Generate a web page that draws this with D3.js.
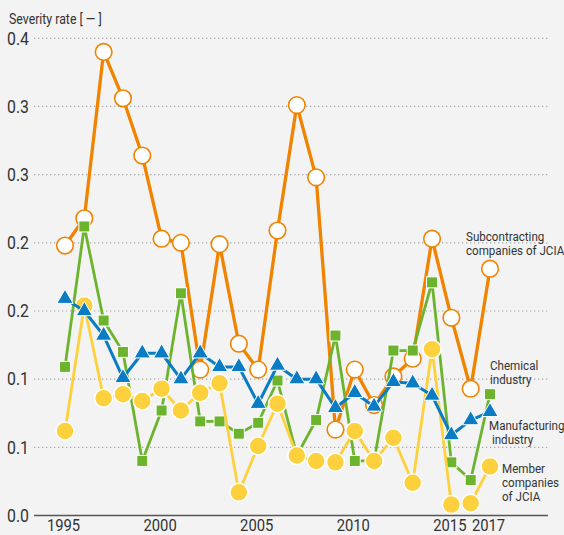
<!DOCTYPE html>
<html>
<head>
<meta charset="utf-8">
<script src="https://cdn.jsdelivr.net/npm/d3@7"></script>
<style>
  html, body { margin: 0; padding: 0; background: #f2f3f2; }
  #chart { width: 564px; height: 535px; }
  text { font-family: Roboto, 'Liberation Sans', sans-serif; fill: #333; }
</style>
</head>
<body>
<div id="chart"></div>
<script>
// Severity rate by year
const years = [1995, 1996, 1997, 1998, 1999, 2000, 2001, 2002, 2003, 2004, 2005, 2006,
  2007, 2008, 2009, 2010, 2011, 2012, 2013, 2014, 2015, 2016, 2017];
const subcontracting = [0.198, 0.218, 0.340, 0.306, 0.264, 0.203, 0.200, 0.107, 0.199, 0.126, 0.107, 0.209,
  0.301, 0.248, 0.063, 0.107, 0.081, 0.102, 0.115, 0.203, 0.145, 0.093, 0.181];
const chemical = [0.109, 0.212, 0.143, 0.120, 0.040, 0.077, 0.163, 0.069, 0.069, 0.060, 0.068, 0.099,
  0.044, 0.070, 0.132, 0.040, 0.040, 0.121, 0.121, 0.171, 0.039, 0.026, 0.089];
const manufacturing = [0.159, 0.150, 0.132, 0.101, 0.119, 0.119, 0.100, 0.119, 0.109, 0.109, 0.082, 0.110,
  0.100, 0.100, 0.079, 0.090, 0.080, 0.098, 0.097, 0.088, 0.059, 0.070, 0.076];
const member = [0.062, 0.154, 0.086, 0.089, 0.084, 0.093, 0.077, 0.090, 0.097, 0.017, 0.051, 0.082,
  0.044, 0.040, 0.039, 0.062, 0.040, 0.057, 0.024, 0.122, 0.008, 0.009, 0.036];

const yTickValues = [0, 0.05, 0.1, 0.15, 0.2, 0.25, 0.3, 0.35];
const yTickLabels = ['0.0', '0.1', '0.1', '0.2', '0.2', '0.3', '0.3', '0.4'];
const xTickYears = [1995, 2000, 2005, 2010, 2015, 2017];

const width = 564, height = 535;
const narrow = 0.84; // the reference uses a condensed face

const svg = d3.select('#chart').append('svg')
  .attr('width', width)
  .attr('height', height);

svg.append('rect')
  .attr('width', width)
  .attr('height', height)
  .attr('fill', '#f2f3f2');

const x = d3.scaleLinear().domain([1995, 2017]).range([65, 490]);
const y = d3.scaleLinear().domain([0, 0.35]).range([515.5, 38.3]);

const gridLeft = 34, gridRight = 548;

// Y labels
const yAxis = d3.axisLeft(y)
  .tickValues(yTickValues)
  .tickSize(0)
  .tickPadding(0)
  .tickFormat((d, i) => yTickLabels[i]);

const yAxisGroup = svg.append('g')
  .attr('transform', `translate(29,0)`)
  .call(yAxis)
  .call(g => g.select('.domain').remove());

yAxisGroup.selectAll('text')
  .attr('font-size', '18px')
  .attr('fill', '#333')
  .attr('transform', `scale(${narrow + 0.04},1)`);

// Dotted grid lines (solid baseline at zero)
svg.append('g').selectAll('line')
  .data(yTickValues.filter(v => v > 0))
  .join('line')
  .attr('x1', gridLeft)
  .attr('x2', gridRight)
  .attr('y1', d => y(d))
  .attr('y2', d => y(d))
  .attr('stroke', '#a8a8a8')
  .attr('stroke-width', 1.2)
  .attr('stroke-dasharray', '1.3 2.7');

svg.append('line')
  .attr('x1', gridLeft)
  .attr('x2', gridRight)
  .attr('y1', y(0))
  .attr('y2', y(0))
  .attr('stroke', '#555')
  .attr('stroke-width', 1.5);

// Year labels
const xAxis = d3.axisBottom(x)
  .tickValues(xTickYears)
  .tickSize(0)
  .tickPadding(0)
  .tickFormat(d3.format('d'));

const xAxisGroup = svg.append('g')
  .attr('transform', `translate(-2,${y(0)})`)
  .call(xAxis)
  .call(g => g.select('.domain').remove());

xAxisGroup.selectAll('text')
  .attr('font-size', '17px')
  .attr('fill', '#333')
  .attr('dy', null)
  .attr('y', 15)
  .attr('transform', `scale(${narrow + 0.03},1)`);

// Title of the y axis
svg.append('text')
  .attr('transform', `translate(9,24) scale(${narrow + 0.04},1)`)
  .attr('font-size', '14px')
  .attr('fill', '#222')
  .text('Severity rate [ — ]');

const line = d3.line()
  .x((d, i) => x(years[i]))
  .y(d => y(d));

const series = [
  { name: 'subcontracting', values: subcontracting, color: '#f08300', width: 3.3, marker: 'open' },
  { name: 'chemical', values: chemical, color: '#6cb42e', width: 2.8, marker: 'square' },
  { name: 'member', values: member, color: '#fdd13e', width: 2.8, marker: 'circle' },
  { name: 'manufacturing', values: manufacturing, color: '#0a7cc3', width: 3, marker: 'triangle' }
];

series.forEach(s => {
  const g = svg.append('g').attr('class', `series-${s.name}`);

  g.append('path')
    .datum(s.values)
    .attr('d', line)
    .attr('fill', 'none')
    .attr('stroke', s.color)
    .attr('stroke-width', s.width)
    .attr('stroke-linejoin', 'round');

  const pts = g.selectAll('.pt')
    .data(s.values)
    .join('g')
    .attr('class', 'pt')
    .attr('transform', (d, i) => `translate(${x(years[i])},${y(d)})`);

  if (s.marker === 'open') {
    pts.append('circle')
      .attr('r', 8.3)
      .attr('fill', '#fff')
      .attr('stroke', s.color)
      .attr('stroke-width', 1.6);
  } else if (s.marker === 'circle') {
    pts.append('circle')
      .attr('r', 9)
      .attr('fill', s.color)
      .attr('stroke', '#fff')
      .attr('stroke-width', 1.5);
  } else if (s.marker === 'square') {
    pts.append('rect')
      .attr('x', -5.5)
      .attr('y', -5.5)
      .attr('width', 11)
      .attr('height', 11)
      .attr('fill', s.color)
      .attr('stroke', '#fff')
      .attr('stroke-width', 1);
  } else {
    pts.append('path')
      .attr('d', d3.symbol().type(d3.symbolTriangle).size(115))
      .attr('fill', s.color)
      .attr('stroke', '#fff')
      .attr('stroke-width', 1);
  }
});

// Series labels, one text per line
const labels = [
  { lines: ['Subcontracting', 'companies of JCIA'], x: 466, y: 241 },
  { lines: ['Chemical', 'industry'], x: 490, y: 370 },
  { lines: ['Manufacturing', '\u00a0industry'], x: 489, y: 430 },
  { lines: ['Member', 'companies', 'of JCIA'], x: 502, y: 473 }
];

labels.forEach(l => {
  l.lines.forEach((s, i) => {
    svg.append('text')
      .attr('transform', `translate(${l.x},${l.y + i * 14}) scale(${narrow + 0.02},1)`)
      .attr('font-size', '13.5px')
      .attr('fill', '#333')
      .text(s);
  });
});
</script>
</body>
</html>
